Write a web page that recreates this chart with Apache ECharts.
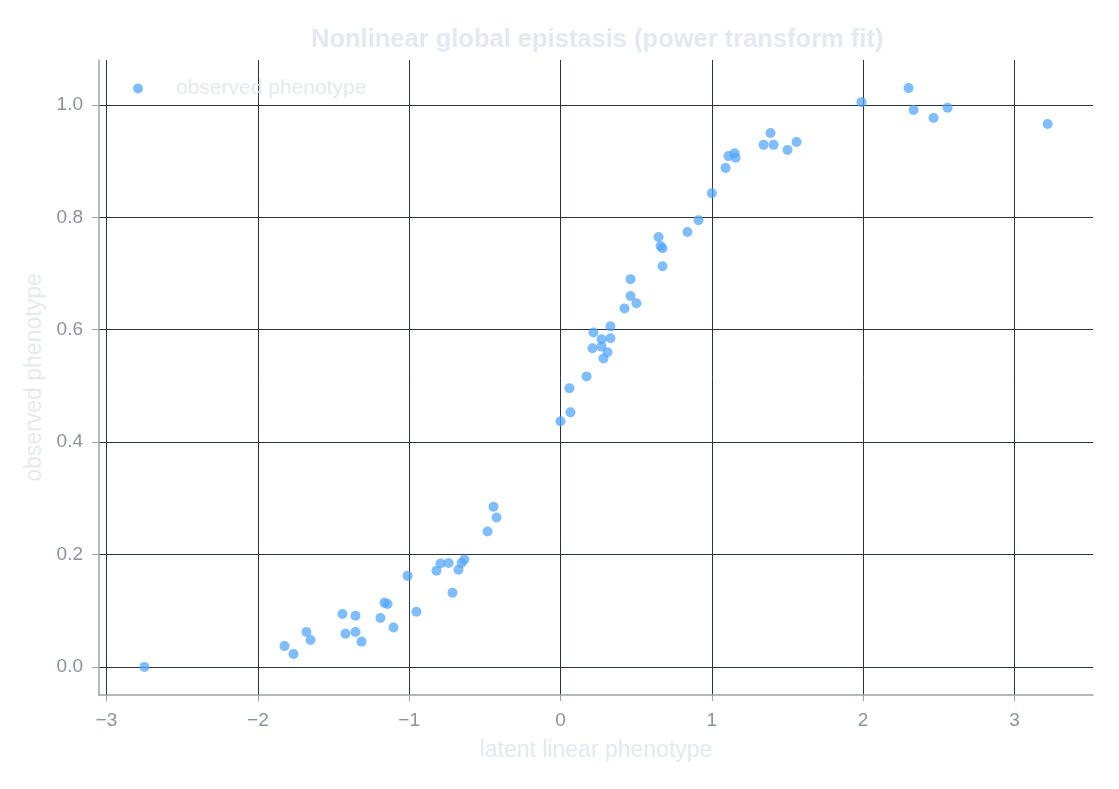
<!DOCTYPE html>
<html>
<head>
<meta charset="utf-8">
<title>Nonlinear global epistasis</title>
<script src="https://cdn.jsdelivr.net/npm/echarts@6/dist/echarts.min.js"></script>
<style>
  html, body { margin: 0; padding: 0; background: #ffffff; }
  #chart { width: 1119px; height: 789px; }
</style>
</head>
<body>
<div id="chart"></div>
<script>
  // latent linear phenotype (x) and observed phenotype (y)
  const latent = [
    -2.75, -1.824, -1.765, -1.679, -1.652, -1.441, -1.421, -1.355, -1.355, -1.315,
    -1.19, -1.163, -1.143, -1.104, -1.011, -0.952, -0.82, -0.793, -0.74, -0.714,
    -0.674, -0.654, -0.635, -0.482, -0.443, -0.423, 0.0, 0.066, 0.059, 0.172,
    0.211, 0.218, 0.271, 0.271, 0.284, 0.311, 0.33, 0.33, 0.423, 0.463,
    0.502, 0.463, 0.648, 0.661, 0.674, 0.674, 0.839, 0.912, 1.0, 1.091,
    1.11, 1.15, 1.157, 1.342, 1.388, 1.408, 1.5, 1.56, 1.989, 2.3,
    2.333, 2.465, 2.558, 3.219
  ];
  const observed = [
    0.0, 0.037, 0.023, 0.062, 0.048, 0.094, 0.059, 0.091, 0.062, 0.045,
    0.087, 0.114, 0.112, 0.07, 0.162, 0.098, 0.171, 0.184, 0.185, 0.132,
    0.173, 0.185, 0.191, 0.241, 0.285, 0.266, 0.437, 0.453, 0.496, 0.517,
    0.567, 0.595, 0.57, 0.583, 0.549, 0.56, 0.585, 0.606, 0.638, 0.66,
    0.647, 0.69, 0.765, 0.749, 0.745, 0.713, 0.774, 0.795, 0.843, 0.888,
    0.909, 0.914, 0.906, 0.929, 0.95, 0.929, 0.92, 0.934, 1.005, 1.03,
    0.991, 0.977, 0.995, 0.966
  ];
  const xTicks = [-3, -2, -1, 0, 1, 2, 3];
  const yTicks = [0, 0.2, 0.4, 0.6, 0.8, 1.0];

  const points = latent.map((v, i) => [v, observed[i]]);

  const gridColor = '#2d3440';
  const axisGray = '#9aa3ad';
  const labelGray = '#8a939e';
  const faint = '#e3e9f0';

  let chart = echarts.init(document.getElementById('chart'));
  let option = {
    backgroundColor: '#ffffff',
    animation: false,
    title: {
      text: 'Nonlinear global epistasis (power transform fit)',
      left: 306,
      top: 22,
      textStyle: { color: faint, fontSize: 25.5, fontWeight: 'bold' }
    },
    legend: {
      left: 128,
      top: 73,
      itemWidth: 66,
      itemHeight: 10,
      textStyle: { color: faint, fontSize: 21 },
      data: ['observed phenotype']
    },
    grid: { left: 99, right: 26, top: 60, bottom: 94 },
    xAxis: {
      type: 'value',
      name: 'latent linear phenotype',
      nameLocation: 'middle',
      nameGap: 44,
      nameTextStyle: { color: faint, fontSize: 23 },
      min: Math.min(...latent) - 0.3,
      max: Math.max(...latent) + 0.3,
      axisLine: { show: true, onZero: false, lineStyle: { color: axisGray, width: 1.5 } },
      axisTick: { show: true, length: 6, customValues: xTicks, lineStyle: { color: axisGray } },
      axisLabel: {
        customValues: xTicks,
        color: labelGray,
        fontSize: 19,
        margin: 16,
        formatter: v => String(v).replace('-', '\u2212')
      },
      splitLine: { show: true, lineStyle: { color: gridColor, width: 1 } }
    },
    yAxis: {
      type: 'value',
      name: 'observed phenotype',
      nameLocation: 'middle',
      nameGap: 47,
      nameTextStyle: { color: faint, fontSize: 23 },
      min: Math.min(...observed) - 0.05,
      max: Math.max(...observed) + 0.05,
      axisLine: { show: true, onZero: false, lineStyle: { color: axisGray, width: 1.5 } },
      axisTick: { show: true, length: 7, customValues: yTicks, lineStyle: { color: axisGray } },
      axisLabel: {
        customValues: yTicks,
        color: labelGray,
        fontSize: 19,
        margin: 16,
        formatter: v => v.toFixed(1)
      },
      splitLine: { show: true, lineStyle: { color: gridColor, width: 1 } }
    },
    series: [
      {
        name: 'observed phenotype',
        type: 'scatter',
        symbol: 'circle',
        symbolSize: 10,
        itemStyle: { color: '#4da3ff', opacity: 0.72 },
        data: points
      }
    ]
  };
  chart.setOption(option);
</script>
</body>
</html>
